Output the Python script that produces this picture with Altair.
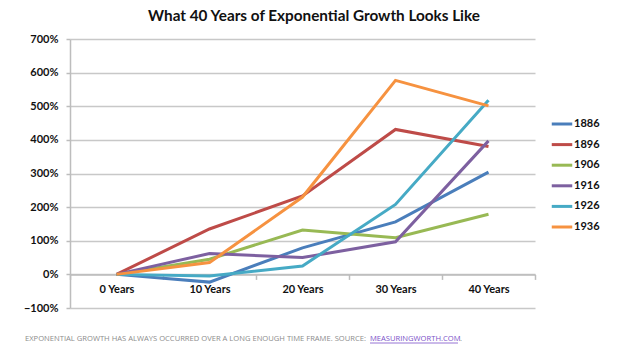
import altair as alt
import pandas as pd

years = ["0 Years", "10 Years", "20 Years", "30 Years", "40 Years"]
series_names = ["1886", "1896", "1906", "1916", "1926", "1936"]
s1886 = [0, -23, 79, 156, 304]
s1896 = [0, 135, 233, 431, 380]
s1906 = [0, 45, 132, 109, 179]
s1916 = [0, 62, 50, 97, 397]
s1926 = [0, -5, 25, 208, 518]
s1936 = [0, 35, 230, 577, 501]
colors = ["#4A7EBB", "#BE4B48", "#98B954", "#7D60A0", "#46AAC5", "#F69240"]
y_ticks = [-1, 0, 1, 2, 3, 4, 5, 6, 7]

title_text = "What 40 Years of Exponential Growth Looks Like"
footer_text = "EXPONENTIAL GROWTH HAS ALWAYS OCCURRED OVER A LONG ENOUGH TIME FRAME. SOURCE: "
link_text = "MEASURINGWORTH.COM"
end_text = "."

rows = []
for name, vals in zip(series_names, [s1886, s1896, s1906, s1916, s1926, s1936]):
    for yr, v in zip(years, vals):
        rows.append({"period": yr, "series": name, "value": v / 100.0})
df = pd.DataFrame(rows)

W, H = 465, 269

lines = alt.Chart(df).mark_line(strokeWidth=3).encode(
    x=alt.X("period:N", sort=years, bandPosition=0.5,
            scale=alt.Scale(type="band", paddingInner=0, paddingOuter=0),
            axis=alt.Axis(title=None, labelAngle=0, tickBand="extent", offset=-33.6,
                          domainColor="#bdbdbd", domainWidth=1.5, tickColor="#bdbdbd",
                          tickWidth=1.5, tickSize=5, labelFont="Lato", labelFontWeight="bold",
                          labelFontSize=11, labelColor="#111111", labelPadding=4, grid=False)),
    y=alt.Y("value:Q", scale=alt.Scale(domain=[-1, 7], nice=False),
            axis=alt.Axis(title=None, format=".0%", values=y_ticks, grid=True,
                          gridColor="#c8c8c8", gridWidth=1.5, domainColor="#bdbdbd",
                          domainWidth=1.5, tickColor="#bdbdbd", tickWidth=1.5, tickSize=4,
                          labelFont="Lato", labelFontWeight="bold", labelFontSize=11,
                          labelColor="#111111", labelPadding=8)),
    color=alt.Color("series:N", sort=series_names,
                    scale=alt.Scale(domain=series_names, range=colors),
                    legend=alt.Legend(title=None, orient="none", legendX=480, legendY=73,
                                      symbolType="stroke", symbolStrokeWidth=3,
                                      symbolSize=420, labelOffset=0, rowPadding=2.6,
                                      labelFont="Lato", labelFontWeight="bold",
                                      labelFontSize=11, labelColor="#111111")),
)

title = alt.Chart(pd.DataFrame({"t": [title_text]})).mark_text(
    font="Lato", fontSize=15.3, fontWeight="bold", color="#111111", align="center",
    baseline="middle").encode(text="t:N", x=alt.value(244), y=alt.value(-23))

footer = alt.Chart(pd.DataFrame({"t": [footer_text]})).mark_text(
    font="Open Sans", fontSize=7.6, color="#8c8c8c", align="left",
    baseline="middle").encode(text="t:N", x=alt.value(-45), y=alt.value(300))

link = alt.Chart(pd.DataFrame({"t": [link_text]})).mark_text(
    font="Open Sans", fontSize=7.6, color="#7B52C9", align="left",
    baseline="middle").encode(text="t:N", x=alt.value(300), y=alt.value(300))

end = alt.Chart(pd.DataFrame({"t": [end_text]})).mark_text(
    font="Open Sans", fontSize=7.6, color="#8c8c8c", align="left",
    baseline="middle").encode(text="t:N", x=alt.value(390), y=alt.value(300))

underline = alt.Chart(pd.DataFrame({"t": [link_text]})).mark_rule(
    color="#7B52C9", strokeWidth=0.8).encode(
    x=alt.value(300), x2=alt.value(388), y=alt.value(304))

chart = alt.layer(lines, title, footer, link, end, underline).properties(
    width=W, height=H,
    autosize=alt.AutoSizeParams(type="none"),
    padding={"left": 70, "top": 39, "right": 89, "bottom": 45},
    background="white",
).configure_view(stroke=None)

chart.save("out.html", embed_options={"renderer": "svg", "actions": False})
